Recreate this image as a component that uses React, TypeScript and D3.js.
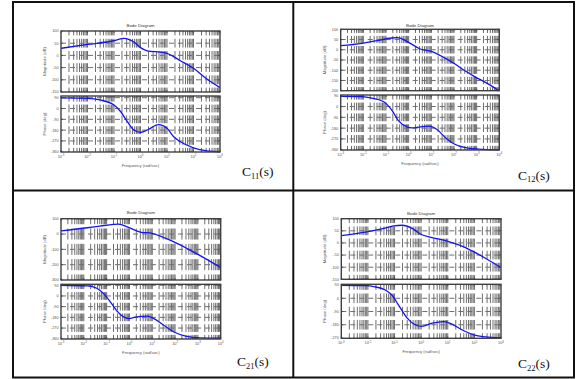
import React from 'react';
import * as d3 from 'd3';

// ---------- data ----------
const c11MagFreq = [0.001, 0.01, 0.1, 0.24, 0.56, 1, 1.8, 5.6, 10, 32, 100, 320, 1000];
const c11Mag = [29, 45, 60, 70, 55, 32, 19, 13, 8.5, -22, -53, -97, -132];
const c11PhFreq = [0.001, 0.01, 0.03, 0.1, 0.18, 0.32, 0.56, 1, 1.8, 4.8, 10, 18, 32, 100, 320, 1000];
const c11Ph = [88, 85, 71, 29, -27, -110, -179, -198, -179, -135, -165, -235, -277, -327, -352, -360];

const c12MagFreq = [0.001, 0.0087, 0.034, 0.18, 0.31, 1, 3.2, 10.7, 35, 98, 316, 810, 2900, 10000];
const c12Mag = [20, 31.5, 43, 57.6, 59, 36, 3.8, -9, -37, -66, -104, -131, -164, -200];
const c12PhFreq = [0.001, 0.0087, 0.024, 0.079, 0.18, 0.36, 0.85, 1.4, 3.2, 7.6, 17.8, 42, 98, 316, 1230, 10000];
const c12Ph = [84, 82, 70, 40, -30, -120, -170, -178, -170, -164, -192, -259, -310, -343, -354, -360];

const c21MagFreq = [0.001, 0.0145, 0.052, 0.2, 0.33, 0.91, 3.0, 9.8, 27, 89, 340, 1320, 10000];
const c21Mag = [21, 41, 52, 63, 65, 43, 13, 4, -18, -51, -95, -143, -219];
const c21PhFreq = [0.001, 0.0145, 0.037, 0.072, 0.145, 0.28, 0.55, 0.91, 2.1, 5.9, 11.7, 32, 89, 290, 1320, 10000];
const c21Ph = [90, 84, 65, 22, -49, -125, -176, -190, -176, -170, -190, -247, -303, -337, -352, -354];

const c22MagFreq = [0.001, 0.0091, 0.03, 0.093, 0.19, 0.46, 0.93, 2.6, 9.3, 26, 93, 260, 1000];
const c22Mag = [30, 46, 57, 70, 73, 60, 37, 22, 8, -8, -36, -63, -102];
const c22PhFreq = [0.001, 0.0091, 0.0166, 0.045, 0.079, 0.14, 0.3, 0.6, 1.07, 2.6, 7.1, 14.5, 34, 93, 260, 1000];
const c22Ph = [88, 85.5, 79, 56, 22, -45, -135, -180, -191, -169, -158, -176, -214, -248, -263, -270];

const magTicks6 = [100, 50, 0, -50, -100, -150];
const magTicks7 = [100, 50, 0, -50, -100, -150, -200];
const magTicks5 = [100, 0, -100, -200, -300];
const phTicks6 = [90, 0, -90, -180, -270, -360];
const phTicks5 = [90, 0, -90, -180, -270];

const subscripts = ['11', '12', '21', '22'];
const titleText = 'Bode Diagram';
const magLabel = 'Magnitude (dB)';
const phLabel = 'Phase (deg)';
const freqLabel = 'Frequency  (rad/sec)';

// ---------- layout ----------
type Panel = {
  sub: string;
  left: number; right: number;
  magTop: number; magBottom: number;
  phTop: number; phBottom: number;
  xDomain: [number, number];
  magDomain: [number, number]; magTicks: number[];
  phDomain: [number, number]; phTicks: number[];
  magF: number[]; mag: number[]; phF: number[]; ph: number[];
  labelX: number; labelY: number; titleY: number;
};

const panels: Panel[] = [
  { sub: subscripts[0], left: 61, right: 220, magTop: 31, magBottom: 92, phTop: 96, phBottom: 152,
    xDomain: [1e-3, 1e3], magDomain: [-150, 100], magTicks: magTicks6, phDomain: [-362, 104], phTicks: phTicks6,
    magF: c11MagFreq, mag: c11Mag, phF: c11PhFreq, ph: c11Ph, labelX: 242, labelY: 176, titleY: 26.5 },
  { sub: subscripts[1], left: 340.7, right: 499.3, magTop: 29.3, magBottom: 90.7, phTop: 95, phBottom: 150,
    xDomain: [1e-3, 1e4], magDomain: [-200, 100], magTicks: magTicks7, phDomain: [-362, 96], phTicks: phTicks6,
    magF: c12MagFreq, mag: c12Mag, phF: c12PhFreq, ph: c12Ph, labelX: 518, labelY: 179.5, titleY: 26.5 },
  { sub: subscripts[2], left: 61, right: 220.7, magTop: 218.7, magBottom: 280, phTop: 284.3, phBottom: 339,
    xDomain: [1e-3, 1e4], magDomain: [-300, 100], magTicks: magTicks5, phDomain: [-362, 98], phTicks: phTicks6,
    magF: c21MagFreq, mag: c21Mag, phF: c21PhFreq, ph: c21Ph, labelX: 237, labelY: 366, titleY: 214 },
  { sub: subscripts[3], left: 341.3, right: 501, magTop: 218.7, magBottom: 279.3, phTop: 284.3, phBottom: 338.3,
    xDomain: [1e-3, 1e3], magDomain: [-150, 100], magTicks: magTicks6, phDomain: [-272, 95], phTicks: phTicks5,
    magF: c22MagFreq, mag: c22Mag, phF: c22PhFreq, ph: c22Ph, labelX: 518, labelY: 368, titleY: 214.5 },
];

const GRID = '#6e6e6e';
const AXIS = '#404040';
const TXT = '#555555';
const CURVE = '#1414f0';
const SANS = 'Arial, "Liberation Sans", sans-serif';
const SERIF = '"Liberation Serif", "Times New Roman", serif';

function logTicks(domain: [number, number]) {
  const lo = Math.round(Math.log10(domain[0]));
  const hi = Math.round(Math.log10(domain[1]));
  const major: number[] = [];
  const minor: number[] = [];
  for (let e = lo; e <= hi; e++) {
    major.push(e);
    if (e < hi) for (let m = 2; m <= 9; m++) minor.push(Math.pow(10, e) * m);
  }
  return { major, minor };
}

function SubAxes({ p, x, top, bottom, domain, ticks, fVals, vals, showX, ylabel }: any) {
  const y = d3.scaleLinear().domain(domain).range([bottom, top]);
  const { major, minor } = logTicks(p.xDomain);
  const band = Math.abs(y(ticks[0]) - y(ticks[1]));
  const dash = band * 0.72;
  const gap = band - dash;
  const line = d3.line<number>()
    .x((_, i) => x(fVals[i]))
    .y((d) => y(d))
    .curve(d3.curveMonotoneX);
  const allV = [...major.map((e: number) => Math.pow(10, e)), ...minor];
  const firstTickY = y(ticks[0]);
  return (
    <g>
      {/* vertical grid */}
      {allV.map((v, i) => {
        const xx = x(v);
        if (xx <= p.left + 0.5 || xx >= p.right - 0.5) return null;
        return (
          <line key={'v' + i} x1={xx} x2={xx} y1={top} y2={bottom} stroke={GRID} strokeWidth={1}
            strokeDasharray={`${dash},${gap}`} strokeDashoffset={dash / 2 - (firstTickY - top)} />
        );
      })}
      {/* horizontal grid */}
      {ticks.map((t: number, i: number) => {
        const yy = y(t);
        if (yy <= top + 0.8 || yy >= bottom - 0.8) return null;
        return <line key={'h' + i} x1={p.left} x2={p.right} y1={yy} y2={yy} stroke={GRID} strokeWidth={1} strokeDasharray="5,4" />;
      })}
      {/* y ticks */}
      {ticks.map((t: number, i: number) => {
        const yy = y(t);
        return (
          <g key={'yt' + i}>
            <line x1={p.left} x2={p.left + 2} y1={yy} y2={yy} stroke={AXIS} strokeWidth={0.8} />
            <line x1={p.right} x2={p.right - 2} y1={yy} y2={yy} stroke={AXIS} strokeWidth={0.8} />
            <text x={p.left - 2.5} y={yy + 1.4} fontSize={3.8} textAnchor="end" fill={TXT} fontFamily={SANS}>{t}</text>
          </g>
        );
      })}
      {/* x ticks */}
      {major.map((e: number) => {
        const xx = x(Math.pow(10, e));
        return (
          <g key={'xt' + e}>
            <line x1={xx} x2={xx} y1={bottom} y2={bottom - 2} stroke={AXIS} strokeWidth={0.8} />
            <line x1={xx} x2={xx} y1={top} y2={top + 2} stroke={AXIS} strokeWidth={0.8} />
            {showX && (
              <text x={xx} y={bottom + 6} fontSize={3.8} textAnchor="middle" fill={TXT} fontFamily={SANS}>
                10<tspan dy={-1.6} fontSize={2.8}>{e}</tspan>
              </text>
            )}
          </g>
        );
      })}
      {minor.map((v: number, i: number) => {
        const xx = x(v);
        return (
          <g key={'mt' + i}>
            <line x1={xx} x2={xx} y1={bottom} y2={bottom - 1.2} stroke={AXIS} strokeWidth={0.6} />
            <line x1={xx} x2={xx} y1={top} y2={top + 1.2} stroke={AXIS} strokeWidth={0.6} />
          </g>
        );
      })}
      {/* curve */}
      <path d={line(vals) || ''} fill="none" stroke={CURVE} strokeWidth={1.3} />
      {/* box */}
      <rect x={p.left} y={top} width={p.right - p.left} height={bottom - top} fill="none" stroke={AXIS} strokeWidth={1.4} />
      <text transform={`translate(${p.left - 15},${(top + bottom) / 2}) rotate(-90)`} fontSize={4.2}
        textAnchor="middle" fill={TXT} fontFamily={SANS}>{ylabel}</text>
    </g>
  );
}

function BodePanel({ p }: { p: Panel }) {
  const x = d3.scaleLog().domain(p.xDomain).range([p.left, p.right]);
  const cx = (p.left + p.right) / 2;
  return (
    <g>
      <text x={cx} y={p.titleY} fontSize={4.4} textAnchor="middle" fill="#333" fontFamily={SANS}>{titleText}</text>
      <SubAxes p={p} x={x} top={p.magTop} bottom={p.magBottom} domain={p.magDomain} ticks={p.magTicks}
        fVals={p.magF} vals={p.mag} showX={false} ylabel={magLabel} />
      <SubAxes p={p} x={x} top={p.phTop} bottom={p.phBottom} domain={p.phDomain} ticks={p.phTicks}
        fVals={p.phF} vals={p.ph} showX={true} ylabel={phLabel} />
      <text x={cx} y={p.phBottom + 15} fontSize={4.2} textAnchor="middle" fill={TXT} fontFamily={SANS}>{freqLabel}</text>
      <text x={p.labelX} y={p.labelY} fontSize={13.5} fill="#111" fontFamily={SERIF}>
        C<tspan fontSize={8.5} dy={2.5}>{p.sub}</tspan><tspan dy={-2.5}>(s)</tspan>
      </text>
    </g>
  );
}

export default function App() {
  return (
    <svg width={583} height={379} style={{ position: 'absolute', left: 0, top: 0, background: '#fff' }}>
      <rect x={0} y={0} width={583} height={379} fill="#fff" />
      {panels.map((p) => <BodePanel key={p.sub} p={p} />)}
      {/* table borders */}
      <rect x={13} y={2} width={561} height={375.5} fill="none" stroke="#111" strokeWidth={2} />
      <line x1={293.3} x2={293.3} y1={2} y2={377.5} stroke="#111" strokeWidth={2} />
      <line x1={13} x2={574} y1={190.5} y2={190.5} stroke="#111" strokeWidth={2} />
    </svg>
  );
}
